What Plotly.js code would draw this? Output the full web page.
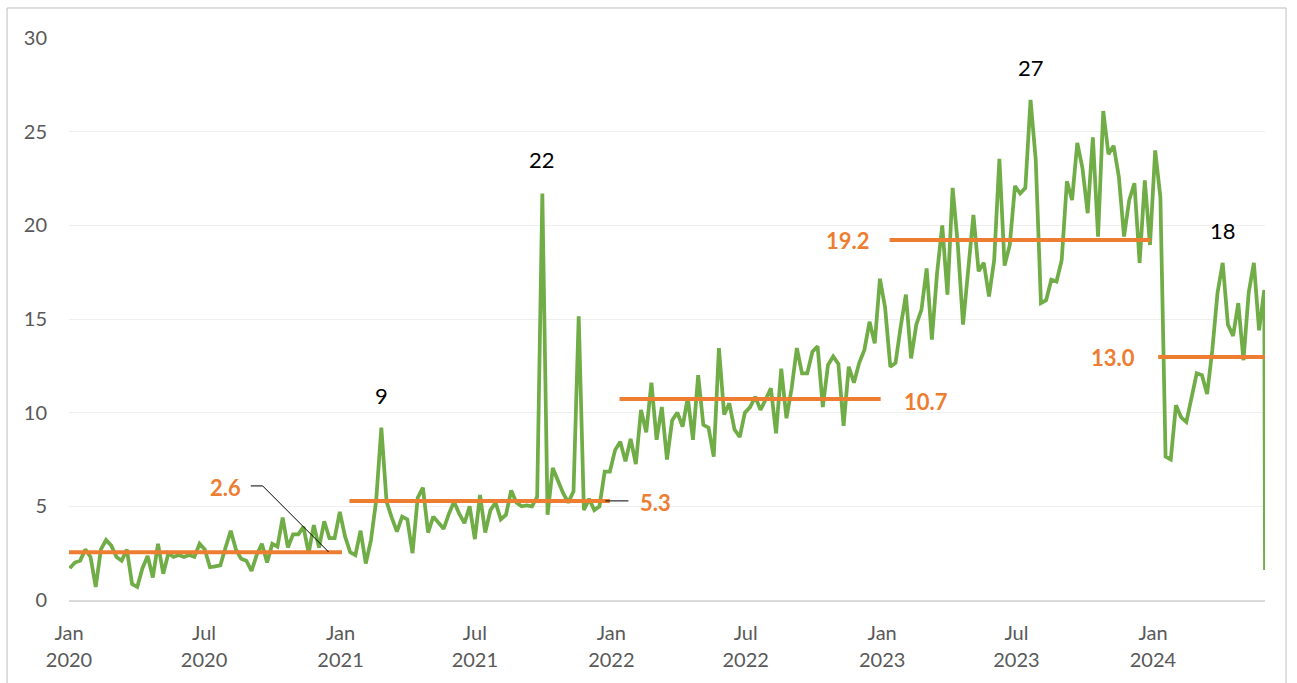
<!DOCTYPE html>
<html><head><meta charset="utf-8">
<script src="https://cdn.plot.ly/plotly-3.0.1.min.js"></script>
<style>html,body{margin:0;padding:0;background:#fff;} #chart{width:1297px;height:683px;}</style>
</head><body><div id="chart"></div>
<script>
// ---- data ----
const firstWeek = '2020-01-02';
const weeklyValues = [
  1.7, 2.0, 2.1, 2.7, 2.3, 0.7, 2.7, 3.2, 2.9, 2.3, 2.1, 2.7, 0.85, 0.7, 1.7, 2.35, 1.2, 3.0, 1.4, 2.5, 2.3, 2.4, 2.3, 2.4, 2.3, 3.0, 2.7, 1.75,
  1.8, 1.85, 2.8, 3.7, 2.7, 2.2, 2.1, 1.55, 2.4, 3.0, 2.0, 3.0, 2.85, 4.4, 2.8, 3.5, 3.5, 3.9, 2.5, 4.0, 2.8, 4.2, 3.3, 3.3, 4.7,
  3.4, 2.55, 2.4, 3.7, 1.95, 3.2, 5.3, 9.2, 5.25, 4.4, 3.65, 4.45, 4.3, 2.5, 5.45, 6.0, 3.6, 4.45, 4.1, 3.8, 4.6, 5.25, 4.6, 4.1, 5.0, 3.25, 5.6,
  3.6, 4.8, 5.2, 4.3, 4.55, 5.85, 5.2, 5.0, 5.05, 5.0, 5.5, 21.7, 4.55, 7.05, 6.4, 5.7, 5.2, 5.8, 15.15, 4.8, 5.4, 4.8, 5.0, 6.85, 6.85, 8.0, 8.45,
  7.4, 8.6, 7.25, 10.15, 8.95, 11.6, 8.55, 10.3, 7.5, 9.6, 10.0, 9.25, 10.8, 8.55, 12.0, 9.35, 9.2, 7.65, 13.45, 9.9, 10.5, 9.1, 8.7, 10.0, 10.3,
  10.85, 10.15, 10.7, 11.3, 8.9, 12.35, 9.7, 11.3, 13.45, 12.1, 12.1, 13.25, 13.55, 10.3, 12.55, 13.0, 12.6, 9.3, 12.45, 11.6, 12.65, 13.35, 14.85, 13.7, 17.15, 15.6,
  12.45, 12.65, 14.6, 16.3, 12.9, 14.7, 15.5, 17.7, 13.9, 17.45, 20.0, 16.3, 22.0, 18.95, 14.7, 17.8, 20.55, 17.55, 18.0, 16.2, 18.15, 23.55, 17.85, 18.95, 22.1, 21.7,
  22.0, 26.7, 23.5, 15.85, 16.0, 17.1, 17.0, 18.15, 22.35, 21.35, 24.4, 23.05, 20.65, 24.7, 19.4, 26.1, 23.8, 24.25, 22.6, 19.4, 21.35, 22.25, 18.0, 22.4, 18.95, 24.0, 21.5,
  7.65, 7.5, 10.4, 9.75, 9.5, 10.85, 12.1, 12.0, 11.0, 13.35, 16.4, 18.0, 14.7, 14.1, 15.85, 12.8, 16.4, 18.0, 14.4, 16.55
];
const lastDate = '2024-05-31';
const lastValue = 1.6;

const yearMeans  = [2.55, 5.29, 10.73, 19.22, 12.97];
const meanLabels = ['2.6', '5.3', '10.7', '19.2', '13.0'];
const meanStart  = ['2020-01-01', '2021-01-13', '2022-01-12', '2023-01-11', '2024-01-08'];
const meanEnd    = ['2021-01-03', '2021-12-30', '2022-12-30', '2023-12-29', '2024-05-31'];
const meanLabelX = ['2020-07-30', '2022-03-01', '2023-03-01', '2022-11-16', '2023-11-08'];
const meanLabelY = [5.98, 5.18, 10.57, 19.17, 12.92];

const peakIndex  = [60, 91, 185, 222];
const peakLabels = ['9', '22', '27', '18'];
const peakLabelY = [10.9, 23.5, 28.45, 19.75];

const tickVals   = ['2020-01-01','2020-07-01','2021-01-01','2021-07-01','2022-01-01','2022-07-01','2023-01-01','2023-07-01','2024-01-01'];
const tickMonths = ['Jan','Jul','Jan','Jul','Jan','Jul','Jan','Jul','Jan'];
const tickYears  = ['2020','2020','2021','2021','2022','2022','2023','2023','2024'];
const yTicks = [0, 5, 10, 15, 20, 25, 30];

// ---- build ----
function addDays(s, n) {
  const d = new Date(s + 'T00:00:00Z');
  d.setUTCDate(d.getUTCDate() + n);
  return d.toISOString().slice(0, 10);
}
const xs = weeklyValues.map((v, i) => addDays(firstWeek, 7 * i));
const xsAll = xs.concat([lastDate]);
const ysAll = weeklyValues.concat([lastValue]);

const GREEN = '#70AD47', ORANGE = '#ED7D31', GRAY = '#595959';
const FONT = 'Lato, "Open Sans", sans-serif';
const XRANGE = ['2020-01-01', '2024-05-31'];

const traces = [{
  x: xsAll, y: ysAll, type: 'scatter', mode: 'lines',
  line: {color: GREEN, width: 3.75}, cliponaxis: false, hoverinfo: 'x+y'
}];
yearMeans.forEach((m, i) => {
  traces.push({
    x: [meanStart[i], meanEnd[i]], y: [m, m], type: 'scatter', mode: 'lines',
    line: {color: ORANGE, width: 4}, cliponaxis: false, hoverinfo: 'y'
  });
});
// carrier trace so the year-label axis is drawn
traces.push({x: [tickVals[0]], y: [null], xaxis: 'x2', yaxis: 'y', type: 'scatter', mode: 'lines', hoverinfo: 'skip', showlegend: false});

const annotations = [];
peakLabels.forEach((t, i) => {
  annotations.push({
    x: xs[peakIndex[i]], y: peakLabelY[i], xref: 'x', yref: 'y', text: t, showarrow: false,
    font: {family: FONT, size: 22, color: '#000000'}, xanchor: 'center', yanchor: 'middle'
  });
});
meanLabels.forEach((t, i) => {
  annotations.push({
    x: meanLabelX[i], y: meanLabelY[i], xref: 'x', yref: 'y', text: '<b>' + t + '</b>', showarrow: false,
    font: {family: FONT, size: 22, color: ORANGE}, xanchor: 'center', yanchor: 'middle'
  });
});

const shapes = [
  {type: 'rect', xref: 'paper', yref: 'paper', x0: -0.0518, x1: 1.0176, y0: -0.3, y1: 1.0534,
   line: {color: '#BFBFBF', width: 1}, fillcolor: 'rgba(0,0,0,0)', layer: 'below'},
  {type: 'line', xref: 'x', yref: 'y', x0: '2020-09-02', x1: '2020-09-18', y0: 6.09, y1: 6.09, line: {color: '#000', width: 1}},
  {type: 'line', xref: 'x', yref: 'y', x0: '2020-09-18', x1: '2020-12-16', y0: 6.09, y1: 2.56, line: {color: '#000', width: 1}},
  {type: 'line', xref: 'x', yref: 'y', x0: '2021-12-24', x1: '2022-01-24', y0: 5.29, y1: 5.29, line: {color: '#000', width: 1}}
];

const tickFont = {family: FONT, size: 20, color: GRAY};
const layout = {
  width: 1297, height: 683,
  margin: {l: 69, r: 32, t: 38, b: 83},
  paper_bgcolor: '#ffffff', plot_bgcolor: '#ffffff',
  showlegend: false,
  font: {family: FONT, color: GRAY},
  xaxis: {
    type: 'date', range: XRANGE,
    tickmode: 'array', tickvals: tickVals, ticktext: tickMonths,
    showgrid: false, zeroline: false, showline: true, linecolor: '#D9D9D9', linewidth: 1.5,
    ticks: '', tickfont: tickFont, ticklabelstandoff: 14
  },
  xaxis2: {
    type: 'date', range: XRANGE, overlaying: 'x', anchor: 'y', side: 'bottom',
    tickmode: 'array', tickvals: tickVals, ticktext: tickYears,
    showgrid: false, zeroline: false, showline: false,
    ticks: '', tickfont: tickFont, ticklabelstandoff: 46
  },
  yaxis: {
    range: [0, 30], tickmode: 'array', tickvals: yTicks,
    showgrid: true, gridcolor: '#EEEEEE', gridwidth: 1, zeroline: false, showline: false,
    ticks: '', tickfont: tickFont, ticklabelstandoff: 21
  },
  annotations: annotations,
  shapes: shapes
};

Plotly.newPlot('chart', traces, layout, {displayModeBar: false, staticPlot: true});
</script>
</body></html>
